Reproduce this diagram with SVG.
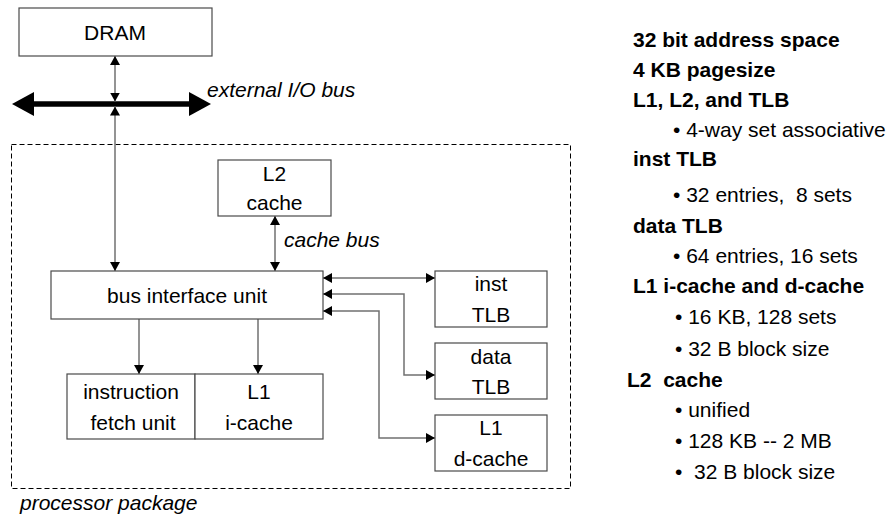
<svg xmlns="http://www.w3.org/2000/svg" width="893" height="516" viewBox="0 0 893 516">
<style>
text{font-family:"Liberation Sans",Arial,sans-serif;font-size:21px;fill:#000;white-space:pre}
.c{text-anchor:middle}
.i{font-style:italic}
.b{font-weight:bold}
.box{fill:#fff;stroke:#4a4a4a;stroke-width:1.2}
.ln{fill:none;stroke:#707070;stroke-width:1.5}
</style>
<defs>
<marker id="ah" viewBox="0 0 9 10" refX="9" refY="5" markerWidth="9" markerHeight="10" markerUnits="userSpaceOnUse" orient="auto-start-reverse">
<path d="M0,0 L9,5 L0,10 z" fill="#000"/>
</marker>
</defs>
<rect x="11.5" y="144.5" width="559" height="344" fill="none" stroke="#000" stroke-width="1" stroke-dasharray="5,3"/>
<text x="20" y="510" class="i">processor package</text>
<g id="connectors">
<line x1="34" y1="104" x2="189" y2="104" stroke="#000" stroke-width="5.5"/>
<polygon points="12,104 34,92 34,116" fill="#000"/>
<polygon points="211,104 189,92 189,116" fill="#000"/>
<line class="ln" x1="115" y1="56" x2="115" y2="101.5" marker-start="url(#ah)" marker-end="url(#ah)"/>
<line class="ln" x1="115" y1="106.5" x2="115" y2="271" marker-start="url(#ah)" marker-end="url(#ah)"/>
<line class="ln" x1="275" y1="216" x2="275" y2="271" marker-start="url(#ah)" marker-end="url(#ah)"/>
<line class="ln" x1="139" y1="319" x2="139" y2="374" marker-end="url(#ah)"/>
<line class="ln" x1="258" y1="319" x2="258" y2="374" marker-end="url(#ah)"/>
<line class="ln" x1="323" y1="278" x2="435" y2="278" marker-start="url(#ah)" marker-end="url(#ah)"/>
<path class="ln" d="M323,294 H404 V375 H435" marker-start="url(#ah)" marker-end="url(#ah)"/>
<path class="ln" d="M323,311 H379 V438 H435" marker-start="url(#ah)" marker-end="url(#ah)"/>
<text x="207" y="97" class="i">external I/O bus</text>
<text x="284" y="247" class="i">cache bus</text>
</g>
<g id="dram">
<rect class="box" x="19" y="8" width="193" height="48"/>
<text x="115" y="39.5" class="c">DRAM</text>
</g>
<g id="l2cache">
<rect class="box" x="218" y="160" width="113" height="56"/>
<text x="274.5" y="181" class="c">L2</text>
<text x="274.5" y="210" class="c">cache</text>
</g>
<g id="biu">
<rect class="box" x="51" y="271" width="272" height="48"/>
<text x="187" y="302.5" class="c">bus interface unit</text>
</g>
<g id="ifu">
<rect class="box" x="67" y="374" width="128" height="65"/>
<text x="131" y="398.5" class="c">instruction</text>
<text x="133" y="429.5" class="c">fetch unit</text>
</g>
<g id="l1icache">
<rect class="box" x="195" y="374" width="128" height="65"/>
<text x="259" y="398.5" class="c">L1</text>
<text x="259" y="429.5" class="c">i-cache</text>
</g>
<g id="insttlb">
<rect class="box" x="435" y="271" width="112" height="56"/>
<text x="491" y="291" class="c">inst</text>
<text x="491" y="322" class="c">TLB</text>
</g>
<g id="datatlb">
<rect class="box" x="435" y="343" width="112" height="56"/>
<text x="491" y="363.5" class="c">data</text>
<text x="491" y="394" class="c">TLB</text>
</g>
<g id="l1dcache">
<rect class="box" x="435" y="415" width="112" height="56"/>
<text x="491" y="435" class="c">L1</text>
<text x="491" y="466" class="c">d-cache</text>
</g>
<g id="specs">
<text x="633" y="47" class="b">32 bit address space</text>
<text x="633" y="77" class="b">4 KB pagesize</text>
<text x="633" y="107" class="b">L1, L2, and TLB</text>
<text x="673" y="137">• 4-way set associative</text>
<text x="633" y="166" class="b">inst TLB</text>
<text x="673" y="202">• 32 entries,  8 sets</text>
<text x="633" y="233" class="b">data TLB</text>
<text x="673" y="263">• 64 entries, 16 sets</text>
<text x="633" y="293" class="b">L1 i-cache and d-cache</text>
<text x="675" y="324">• 16 KB, 128 sets</text>
<text x="675" y="356">• 32 B block size</text>
<text x="627" y="387" class="b">L2  cache</text>
<text x="675" y="417">• unified</text>
<text x="675" y="448">• 128 KB -- 2 MB</text>
<text x="675" y="479">•  32 B block size</text>
</g>
</svg>
